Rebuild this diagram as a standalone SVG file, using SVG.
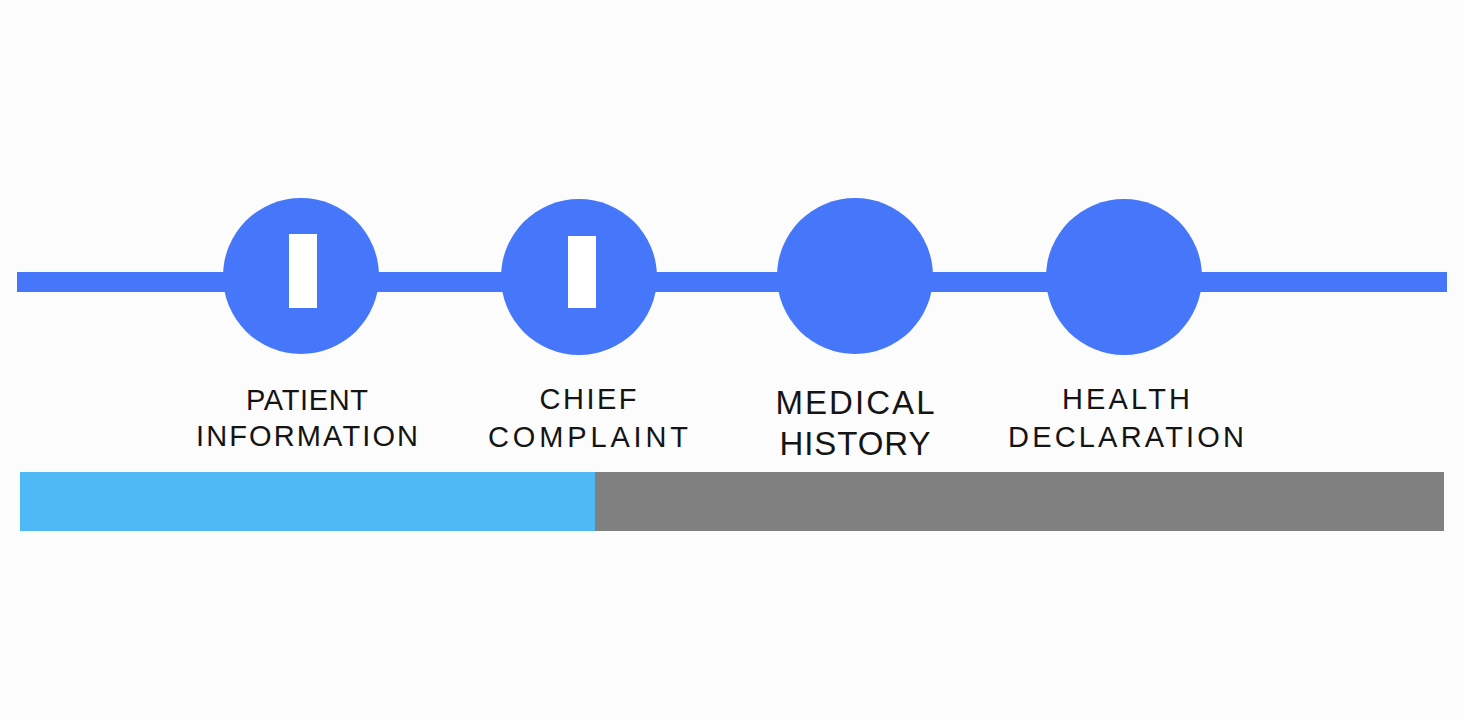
<svg xmlns="http://www.w3.org/2000/svg" width="1464" height="720" viewBox="0 0 1464 720">
<style>
.node{fill:#4677FA}
.mark{fill:#FFFFFF}
.lbl{font-family:"Liberation Sans",Arial,sans-serif;font-size:29px;fill:#141414;text-anchor:middle}
.big{font-size:33px}
</style>
<rect x="0" y="0" width="1464" height="720" fill="#FCFCFC"/>
<g id="connectors">
<rect x="17" y="272" width="1430" height="20" fill="#4677FA"/>
</g>
<g id="step1">
<circle class="node" cx="301" cy="276" r="78"/>
<rect class="mark" x="289" y="234" width="28" height="74"/>
<text class="lbl" x="307" y="410" textLength="122" lengthAdjust="spacing">PATIENT</text>
<text class="lbl" x="307" y="446" textLength="222" lengthAdjust="spacing">INFORMATION</text>
</g>
<g id="step2">
<circle class="node" cx="579" cy="277" r="78"/>
<rect class="mark" x="568" y="236" width="28" height="72"/>
<text class="lbl" x="588" y="409" textLength="97" lengthAdjust="spacing">CHIEF</text>
<text class="lbl" x="588" y="447" textLength="200" lengthAdjust="spacing">COMPLAINT</text>
</g>
<g id="step3">
<circle class="node" cx="855" cy="276" r="78"/>
<text class="lbl big" x="855" y="414" textLength="159" lengthAdjust="spacing">MEDICAL</text>
<text class="lbl big" x="855" y="455" textLength="151" lengthAdjust="spacing">HISTORY</text>
</g>
<g id="step4">
<circle class="node" cx="1124" cy="277" r="78"/>
<text class="lbl" x="1126" y="409" textLength="128" lengthAdjust="spacing">HEALTH</text>
<text class="lbl" x="1126" y="447" textLength="236" lengthAdjust="spacing">DECLARATION</text>
</g>
<g id="progress">
<rect x="20" y="472" width="575" height="59" fill="#4FB9F6"/>
<rect x="595" y="472" width="849" height="59" fill="#808080"/>
</g>
</svg>
